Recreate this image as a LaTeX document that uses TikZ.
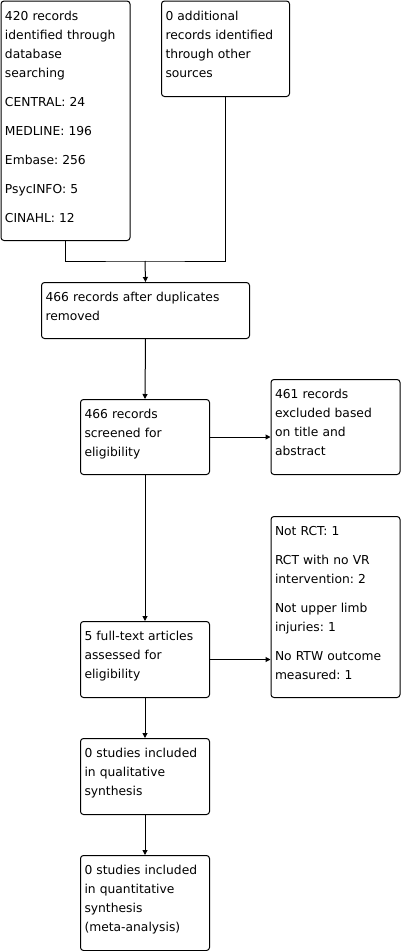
\documentclass[tikz,border=0pt]{standalone}
\usepackage{fontspec}
\setmainfont{DejaVu Sans}
\usepackage{tikz}
\usetikzlibrary{arrows.meta}
\frenchspacing

\begin{document}
\begin{tikzpicture}[
    x=1pt, y=-1pt,
    box/.style={rectangle, draw=black, line width=1pt, rounded corners=3pt, anchor=north west, align=left, inner xsep=4pt, inner ysep=0pt, text width=121pt, text height=19pt, font=\fontsize{12.3}{19}\selectfont},
    widebox/.style={box, text width=200pt},
    arrow/.style={-{Triangle[length=5pt, width=5pt]}, line width=1pt},
    link/.style={line width=1pt}
]
\useasboundingbox (0,0) rectangle (402,951);

% identification
\node[box, text depth=220.5pt] (dbsearch) at (0.5,0.5) {420 records\\identified through\\database\\searching\\[10pt]CENTRAL: 24\\[10pt]MEDLINE: 196\\[10pt]Embase: 256\\[10pt]PsycINFO: 5\\[10pt]CINAHL: 12};
\node[box, text width=120pt, text depth=76.5pt] (othersrc) at (161,0.5) {0 additional\\records identified\\through other\\sources};

% screening
\node[widebox, text depth=37pt] (dedup) at (41,282) {466 records after duplicates\\removed};
\node[box, text depth=56pt] (screened) at (80,399) {466 records\\screened for\\eligibility};
\node[box, text depth=76pt] (excluded) at (270.5,379) {461 records\\excluded based\\on title and\\abstract};

% eligibility
\node[box, text depth=162pt] (reasons) at (270.5,516) {Not RCT: 1\\[10pt]RCT with no VR\\intervention: 2\\[10pt]Not upper limb\\injuries: 1\\[10pt]No RTW outcome\\measured: 1};
\node[box, text depth=57pt] (fulltext) at (80,621) {5 full-text articles\\assessed for\\eligibility};

% included
\node[box, text depth=57pt] (qualit) at (80,738) {0 studies included\\in qualitative\\synthesis};
\node[box, text depth=76pt] (quantit) at (80,855) {0 studies included\\in quantitative\\synthesis\\(meta-analysis)};

% connectors
\coordinate (join) at (145,261);
\draw[link] (dbsearch.south) |- (join) -| (othersrc.south);
\draw[arrow] (join) -- (dedup.north);
\draw[arrow] (dedup.south) -- (screened.north);
\draw[arrow] (screened.east) -- (screened.east -| excluded.west);
\draw[arrow] (screened.south) -- (fulltext.north);
\draw[arrow] (fulltext.east) -- (fulltext.east -| reasons.west);
\draw[arrow] (fulltext.south) -- (qualit.north);
\draw[arrow] (qualit.south) -- (quantit.north);

\end{tikzpicture}
\end{document}
